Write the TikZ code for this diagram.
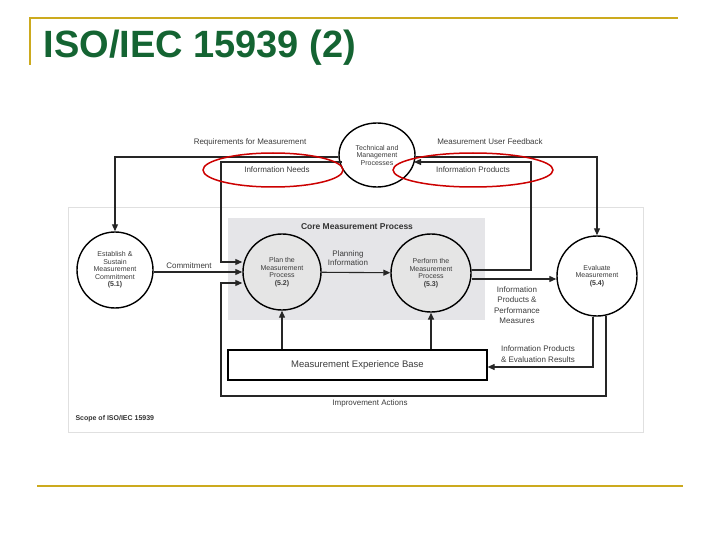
\documentclass[tikz,border=0pt]{standalone}
\usepackage{fontspec}
\setmainfont{Liberation Sans}
\usetikzlibrary{arrows.meta,shapes.geometric}
\definecolor{gold}{RGB}{204,170,30}
\definecolor{titlegreen}{RGB}{20,100,50}
\definecolor{txt}{RGB}{60,60,60}
\begin{document}
\begin{tikzpicture}[x=1pt,y=-1pt,
  proc/.style={draw=black,line width=1.4pt,ellipse,inner sep=0pt,align=center,font=\fontsize{7}{7.5}\selectfont,text=txt},
  lbl/.style={font=\fontsize{8}{9}\selectfont,text=txt,align=center},
  conn/.style={draw=black!85,line width=1.1pt},
  arr/.style={conn,-{Triangle[length=7pt,width=6pt]}},
  redring/.style={draw=red!80!black,line width=1.5pt}]
\useasboundingbox (0,0) rectangle (720,540);
% frame
\draw[gold,line width=1.5pt] (30,65) -- (30,18) -- (678,18);
\draw[gold,line width=1.5pt] (37,486) -- (683,486);
\node[anchor=west,font=\bfseries\fontsize{38}{40}\selectfont,text=titlegreen] (title) at (40,48) {ISO/IEC 15939 (2)};
% scope & core
\draw[black!12,fill=white] (68,207) rectangle (643,432);
\fill[blue!10!black!10] (228,218) rectangle (485,320);
\node[font=\bfseries\fontsize{8.5}{9}\selectfont,text=black!80] (core) at (357,227) {Core Measurement Process};
\node[anchor=west,font=\bfseries\fontsize{7}{7}\selectfont,text=black!80] (scope) at (72,419) {Scope of ISO/IEC 15939};
% processes
\node[proc,fill=white,minimum width=76pt,minimum height=64pt] (tech) at (377,155) {Technical and\\Management\\Processes};
\node[proc,fill=white,minimum width=76pt,minimum height=76pt] (est) at (115,270) {Establish \&\\Sustain\\Measurement\\Commitment\\\textbf{(5.1)}};
\node[proc,fill=black!10,minimum width=78pt,minimum height=76pt] (plan) at (282,272) {Plan the\\Measurement\\Process\\\textbf{(5.2)}};
\node[proc,fill=black!10,minimum width=80pt,minimum height=78pt] (perf) at (431,273) {Perform the\\Measurement\\Process\\\textbf{(5.3)}};
\node[proc,fill=white,minimum width=80pt,minimum height=80pt] (eval) at (597,276) {Evaluate\\Measurement\\\textbf{(5.4)}};
\node[draw=black,line width=1.2pt,minimum width=259pt,minimum height=30pt,font=\fontsize{9.5}{10}\selectfont,text=txt,fill=white] (meb) at (357.5,365) {Measurement Experience Base};
% connectors
\coordinate (c1) at (115,157);
\draw[arr] (tech.west |- 0,157) -- (c1) -- (est.north);
\node[lbl] (l1) at (250,142) {Requirements for Measurement};
\coordinate (c2) at (597,157);
\draw[arr] (tech.east |- 0,157) -- (c2) -- (eval.north);
\node[lbl] (l2) at (490,142) {Measurement User Feedback};
\coordinate (n1) at (221,162);\coordinate (n2) at (221,262);
\draw[arr] (342,162) -- (n1) -- (n2) -- (plan.west |- n2);
\coordinate (p1) at (531,270);\coordinate (p2) at (531,162);
\draw[arr] (perf.east |- p1) -- (p1) -- (p2) -- (414,162);
\draw[arr] (est.east |- 0,272) -- (plan.west |- 0,272);
\node[lbl] (l3) at (189,266) {Commitment};
\draw[arr] (plan) -- (perf);
\node[lbl] (l4) at (348,258) {Planning\\Information};
\draw[arr] (perf.east |- 0,279) -- (eval.west |- 0,279);
\node[lbl,font=\fontsize{8}{10.5}\selectfont] (l5) at (517,305) {Information\\Products \&\\Performance\\Measures};
\coordinate (e1) at (593,367);
\draw[arr] (eval.south -| e1) -- (e1) -- (meb.east |- e1);
\node[lbl,font=\fontsize{8}{11}\selectfont] (l6) at (538,354) {Information Products\\\& Evaluation Results};
\coordinate (i1) at (606,396);\coordinate (i2) at (221,396);\coordinate (i3) at (221,283);
\draw[arr] (eval.south -| i1) ++(0,-1) -- (i1) -- (i2) -- (i3) -- (plan.west |- i3);
\node[lbl] (l7) at (370,403) {Improvement Actions};
\draw[arr] (meb.north -| plan) -- (plan.south);
\draw[arr,line width=1.5pt] (meb.north -| perf) -- (perf.south);
\node[lbl,fill=white,inner sep=1pt] (l8) at (277,170) {Information Needs};
\node[lbl,fill=white,inner sep=1pt] (l9) at (473,170) {Information Products};
\draw[redring] (273,170) ellipse (70 and 17);
\draw[redring] (473,170) ellipse (80 and 17);
\end{tikzpicture}
\end{document}
